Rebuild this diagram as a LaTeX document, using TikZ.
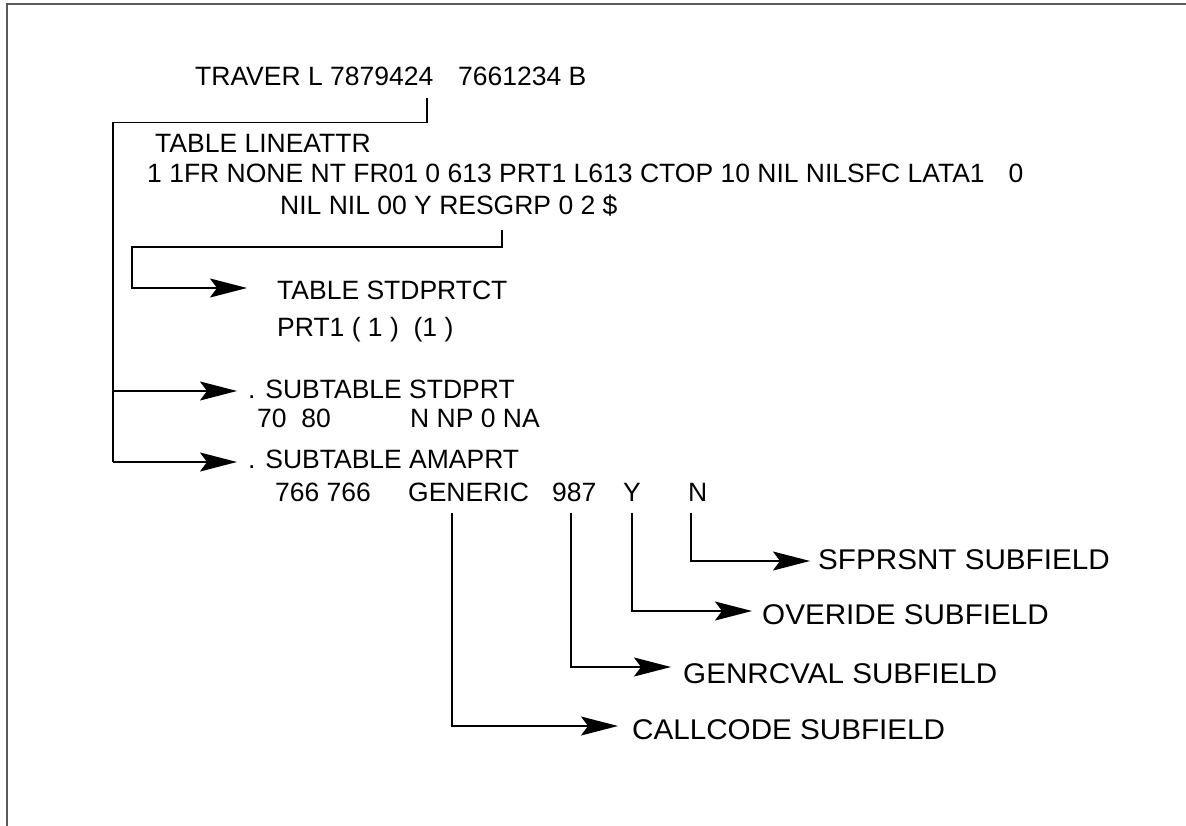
\documentclass[tikz,border=0pt]{standalone}
\usepackage{fontspec}
\setmainfont{Liberation Sans}
\usetikzlibrary{arrows.meta}
\newcommand{\sublbl}[1]{\scalebox{1.04}[1]{\fontsize{28.5}{33}\selectfont #1}}
\begin{document}
\begin{tikzpicture}[x=1pt,y=-1pt,
  txt/.style={anchor=base west,inner sep=0pt,font=\fontsize{26.5}{31}\selectfont},
  conn/.style={line width=1.8pt,line join=miter},
  arr/.style={conn,-{Stealth[length=37pt,width=19pt,inset=7pt]}},
  framecol/.style={draw=black!65,line width=1.6pt}]
\useasboundingbox (0,0) rectangle (1186,826);
\draw[framecol] (7,826) -- (7,3.8) -- (1186,3.8);

% texts
\node[txt] (trav) at (195,86) {TRAVER L 7879424};
\node[txt] (trav2) at (458,86) {7661234 B};
\node[txt] (lineattr) at (155,153) {TABLE LINEATTR};
\node[txt] (l1) at (147,183) {1 1FR NONE NT FR01 0 613 PRT1 L613 CTOP 10 NIL NILSFC LATA1\hspace{24pt}0};
\node[txt] (l2) at (280,215) {NIL NIL 00 Y RESGRP 0 2 \$};
\node[txt] (stdprtct) at (277,300) {TABLE STDPRTCT};
\node[txt] (prt1) at (277,337) {PRT1 ( 1 )\ \ (1 )};
\node[txt] (stdprt) at (248,398) {. SUBTABLE STDPRT};
\node[txt] (r1a) at (257,427) {70\ \ 80};
\node[txt] (r1b) at (410,427) {N NP 0 NA};
\node[txt] (amaprt) at (248,468) {. SUBTABLE AMAPRT};
\node[txt] (r2a) at (275,501) {766 766};
\node[txt] (generic) at (408,501) {GENERIC};
\node[txt] (v987) at (552,501) {987};
\node[txt] (vy) at (623,501) {Y};
\node[txt] (vn) at (688,501) {N};
\node[txt] (sfprsnt) at (818,569) {\sublbl{SFPRSNT SUBFIELD}};
\node[txt] (overide) at (762,624) {\sublbl{OVERIDE SUBFIELD}};
\node[txt] (genrcval) at (683,683) {\sublbl{GENRCVAL SUBFIELD}};
\node[txt] (callcode) at (632,739) {\sublbl{CALLCODE SUBFIELD}};

% connector coordinates
\coordinate (t0) at (427,98);
\coordinate (t1) at (427,122.5);
\coordinate (t2) at (113,122.5);
\coordinate (t3) at (113,391);
\coordinate (t4) at (113,462);
\coordinate (s1tip) at (237,391);
\coordinate (s2tip) at (237,462);

\coordinate (r0) at (502,230);
\coordinate (r1) at (502,247);
\coordinate (r2) at (132,247);
\coordinate (r3) at (132,288);
\coordinate (r4) at (247,288);

\coordinate (g0) at (452,513);
\coordinate (g1) at (452,726);
\coordinate (g2) at (618,726);
\coordinate (n0) at (571,513);
\coordinate (n1) at (571,667);
\coordinate (n2) at (671,667);
\coordinate (y0) at (632,513);
\coordinate (y1) at (632,611);
\coordinate (y2) at (752,611);
\coordinate (m0) at (691,513);
\coordinate (m1) at (691,561);
\coordinate (m2) at (810,561);

\draw[conn] (t0) -- (t1) -- (t2) -- (t4);
\draw[arr] (t3) -- (s1tip);
\draw[arr] (t4) -- (s2tip);
\draw[arr] (r0) -- (r1) -- (r2) -- (r3) -- (r4);
\draw[arr] (g0) -- (g1) -- (g2);
\draw[arr] (n0) -- (n1) -- (n2);
\draw[arr] (y0) -- (y1) -- (y2);
\draw[arr] (m0) -- (m1) -- (m2);
\end{tikzpicture}
\end{document}
